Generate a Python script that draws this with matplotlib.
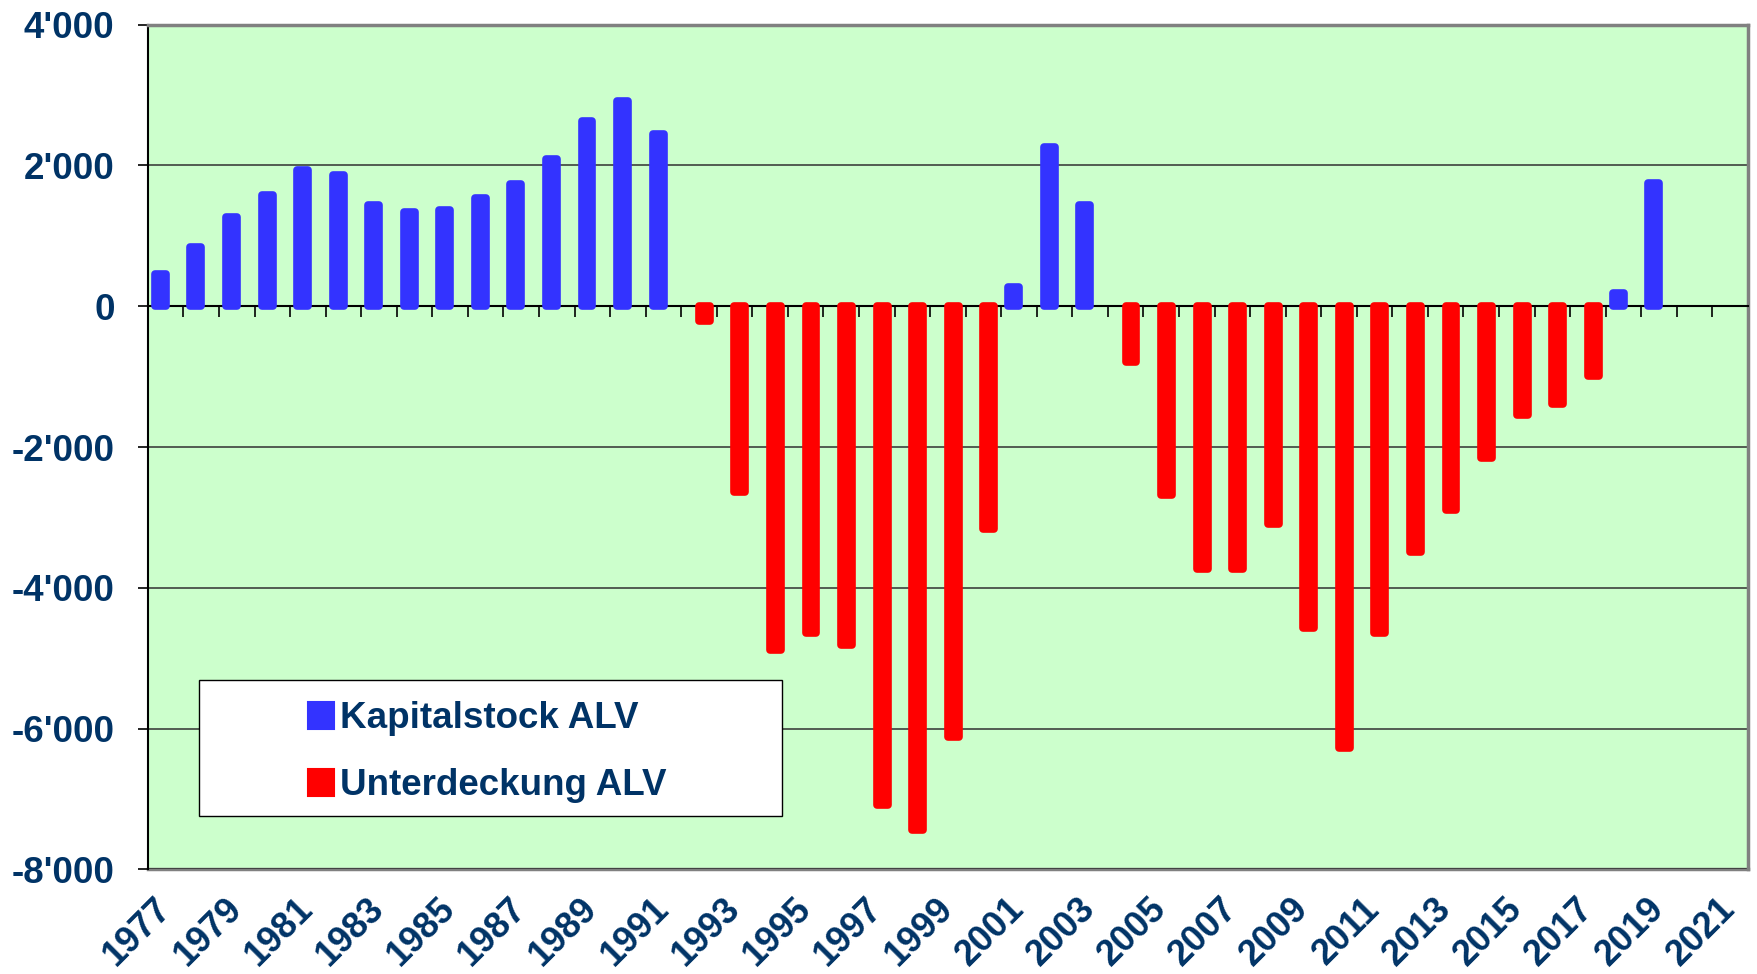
import numpy as np
import matplotlib
matplotlib.use('Agg')
import matplotlib.pyplot as plt
from matplotlib.patches import Rectangle, Patch

nan = np.nan
years = list(range(1977, 2022))
kapitalstock = ([455, 845, 1265, 1585, 1930, 1865, 1435, 1340, 1370, 1535, 1740, 2095, 2635, 2920, 2445]
                + [nan] * 9 + [270, 2255, 1445] + [nan] * 14 + [195, 1745] + [nan] * 2)
unterdeckung = ([nan] * 15 + [-215, -2635, -4885, -4635, -4805, -7085, -7435, -6115, -3165]
                + [nan] * 3 + [-795, -2675, -3735, -3725, -3095, -4565, -6275, -4645, -3485,
                               -2895, -2155, -1545, -1385, -985] + [nan] * 4)
ytick_values = [-8000, -6000, -4000, -2000, 0, 2000, 4000]
ytick_labels = ["-8'000", "-6'000", "-4'000", "-2'000", "0", "2'000", "4'000"]
series_labels = ["Kapitalstock ALV", "Unterdeckung ALV"]

BLUE = '#3333FF'
RED = '#FF0000'
TXT = '#003366'
FONT = 'Liberation Sans'
plt.rcParams['font.family'] = [FONT, 'DejaVu Sans']
plt.rcParams['font.weight'] = 'bold'

fig = plt.figure(figsize=(17.57, 9.74), dpi=100)
ax = fig.add_axes([0.0842, 0.1073, 0.9106, 0.8674])
ax.set_facecolor('#CCFFCC')

x = np.arange(len(years))
ax.bar(x - 0.15, kapitalstock, width=0.307, color=BLUE, edgecolor=BLUE, linewidth=5.5,
       joinstyle='round', zorder=3)
ax.bar(x + 0.15, unterdeckung, width=0.307, color=RED, edgecolor=RED, linewidth=5.5,
       joinstyle='round', zorder=3)

ax.set_xlim(-0.5, len(years) - 0.5)
ax.set_ylim(-8000, 4000)
ax.set_yticks(ytick_values)
ax.set_yticklabels(ytick_labels, fontsize=26.5, fontweight='bold', color=TXT)
ax.tick_params(axis='y', length=7, width=1.2, direction='out', color='black', pad=17)
ax.yaxis.grid(True, color='#303030', linewidth=1.1)
ax.set_axisbelow(True)

# category axis crossing at 0
ax.spines['bottom'].set_position(('data', 0))
ax.spines['bottom'].set_color('black')
ax.spines['bottom'].set_linewidth(1.5)
ax.set_xticks(np.arange(-0.5, len(years), 1.0))
ax.tick_params(axis='x', length=8, width=1.2, direction='out', color='black', labelbottom=False)
for s in ['top', 'right']:
    ax.spines[s].set_color('#808080')
    ax.spines[s].set_linewidth(2.5)
ax.spines['left'].set_color('black')
ax.spines['left'].set_linewidth(1.5)

secax = ax.secondary_xaxis('bottom')
secax.set_xticks(x[::2])
secax.set_xticklabels([str(y) for y in years[::2]], rotation=45, ha='right', va='center',
                      rotation_mode='anchor', fontsize=26, fontweight='bold', color=TXT)
secax.tick_params(axis='x', length=0, pad=24.5)
secax.spines['bottom'].set_color('#808080')
secax.spines['bottom'].set_linewidth(2.5)

# legend box
ax.add_patch(Rectangle((0.032, 0.0633), 0.364, 0.161, transform=ax.transAxes,
                       facecolor='white', edgecolor='black', linewidth=1.0, zorder=4))
handles = [Patch(facecolor=BLUE, edgecolor=BLUE, linewidth=1.5, joinstyle='round'),
           Patch(facecolor=RED, edgecolor=RED, linewidth=1.5, joinstyle='round')]
leg = ax.legend(handles, series_labels, loc='upper left', bbox_to_anchor=(0.0998, 0.199),
                frameon=False, borderpad=0, borderaxespad=0, handlelength=0.72,
                handleheight=0.72, handletextpad=0.15, labelspacing=0.87,
                prop={'family': FONT, 'weight': 'bold', 'size': 26.5})
for t in leg.get_texts():
    t.set_color(TXT)
leg.set_zorder(5)

fig.savefig('out.png', dpi=100, facecolor='white')
